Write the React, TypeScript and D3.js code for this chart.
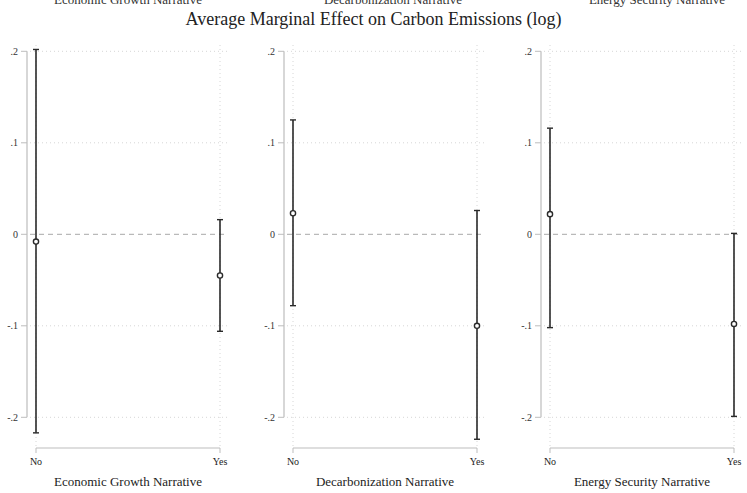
import React from "react";
import * as d3 from "d3";

const categories = ["No", "Yes"];
const panelTitles = [
  "Economic Growth Narrative",
  "Decarbonization Narrative",
  "Energy Security Narrative",
];
const estimates = [
  [-0.008, -0.045],
  [0.023, -0.1],
  [0.022, -0.098],
];
const lowerCI = [
  [-0.217, -0.106],
  [-0.078, -0.224],
  [-0.102, -0.199],
];
const upperCI = [
  [0.202, 0.016],
  [0.125, 0.026],
  [0.116, 0.001],
];
const yTicks = [0.2, 0.1, 0, -0.1, -0.2];
const yTickLabels = [".2", ".1", "0", "-.1", "-.2"];
const mainTitle = "Average Marginal Effect on Carbon Emissions (log)";

const W = 747;
const H = 493;
const FONT = "'Liberation Serif', 'Times New Roman', serif";

export default function App() {
  const y = d3.scaleLinear().domain([-0.2, 0.2]).range([417.3, 51.3]);
  const panelOffset = 257;
  const plotTop = 45;
  const plotBottom = 446;
  const xAxisY = 448;
  const topTitleShift = [0, 8, 15];

  return (
    <svg
      width={W}
      height={H}
      style={{ position: "absolute", left: 0, top: 0, background: "#fff" }}
      fontFamily={FONT}
    >
      <rect x={0} y={0} width={W} height={H} fill="#fff" />
      <text x={W / 2} y={25} textAnchor="middle" fontSize={18} fill="#222">
        {mainTitle}
      </text>
      {panelTitles.map((t, i) => {
        const axisX = 27 + i * panelOffset;
        const x = d3
          .scalePoint<string>()
          .domain(categories)
          .range([axisX + 9, axisX + 193]);
        const gridLeft = axisX + 3;
        const gridRight = axisX + 200;
        const cx = ((x("No") as number) + (x("Yes") as number)) / 2;
        return (
          <g key={t}>
            {/* cut-off upper title */}
            <text
              x={cx + topTitleShift[i]}
              y={3.5}
              textAnchor="middle"
              fontSize={13}
              fill="#333"
            >
              {t}
            </text>
            {/* horizontal grid */}
            {yTicks.map((v) =>
              v === 0 ? (
                <line
                  key={v}
                  x1={gridLeft}
                  x2={gridRight}
                  y1={y(v)}
                  y2={y(v)}
                  stroke="#a8a8a8"
                  strokeWidth={1}
                  strokeDasharray="5,4"
                />
              ) : (
                <line
                  key={v}
                  x1={gridLeft}
                  x2={gridRight}
                  y1={y(v)}
                  y2={y(v)}
                  stroke="#d6d6d6"
                  strokeWidth={1}
                  strokeDasharray="1,3"
                />
              )
            )}
            {/* vertical grid */}
            {categories.map((c) => (
              <line
                key={c}
                x1={x(c)}
                x2={x(c)}
                y1={plotTop}
                y2={plotBottom}
                stroke="#d6d6d6"
                strokeWidth={1}
                strokeDasharray="1,3"
              />
            ))}
            {/* y axis */}
            <line
              x1={axisX}
              x2={axisX}
              y1={y(0.2)}
              y2={y(-0.2)}
              stroke="#bdbdbd"
              strokeWidth={1.2}
            />
            {yTicks.map((v, k) => (
              <g key={v}>
                <line
                  x1={axisX - 6}
                  x2={axisX}
                  y1={y(v)}
                  y2={y(v)}
                  stroke="#bdbdbd"
                  strokeWidth={1}
                />
                <text
                  x={axisX - 9}
                  y={y(v)}
                  dy="0.35em"
                  textAnchor="end"
                  fontSize={10}
                  fill="#333"
                >
                  {yTickLabels[k]}
                </text>
              </g>
            ))}
            {/* x axis */}
            <line
              x1={x("No")}
              x2={x("Yes")}
              y1={xAxisY}
              y2={xAxisY}
              stroke="#bdbdbd"
              strokeWidth={1.2}
            />
            {categories.map((c) => (
              <g key={c}>
                <line
                  x1={x(c)}
                  x2={x(c)}
                  y1={xAxisY}
                  y2={xAxisY + 5}
                  stroke="#bdbdbd"
                  strokeWidth={1}
                />
                <text
                  x={x(c)}
                  y={465}
                  textAnchor="middle"
                  fontSize={10}
                  fill="#222"
                >
                  {c}
                </text>
              </g>
            ))}
            <text x={cx} y={486} textAnchor="middle" fontSize={13} fill="#222">
              {t}
            </text>
            {/* error bars */}
            {categories.map((c, j) => {
              const px = x(c) as number;
              return (
                <g key={c}>
                  <line
                    x1={px}
                    x2={px}
                    y1={y(upperCI[i][j])}
                    y2={y(lowerCI[i][j])}
                    stroke="#2a2a2a"
                    strokeWidth={1.6}
                  />
                  <line
                    x1={px - 3}
                    x2={px + 3}
                    y1={y(upperCI[i][j])}
                    y2={y(upperCI[i][j])}
                    stroke="#2a2a2a"
                    strokeWidth={1.4}
                  />
                  <line
                    x1={px - 3}
                    x2={px + 3}
                    y1={y(lowerCI[i][j])}
                    y2={y(lowerCI[i][j])}
                    stroke="#2a2a2a"
                    strokeWidth={1.4}
                  />
                  <circle
                    cx={px}
                    cy={y(estimates[i][j])}
                    r={2.6}
                    fill="#fff"
                    stroke="#2a2a2a"
                    strokeWidth={1.4}
                  />
                </g>
              );
            })}
          </g>
        );
      })}
    </svg>
  );
}
